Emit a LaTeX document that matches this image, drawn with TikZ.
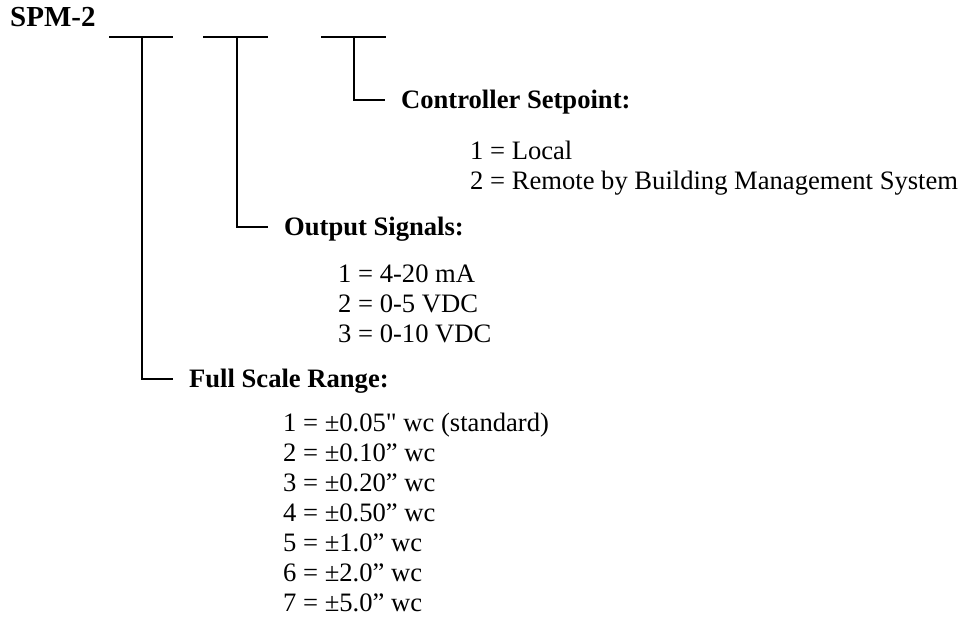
\documentclass[tikz,border=0pt]{standalone}
\usepackage{fontspec}
\setmainfont{Liberation Serif}[Ligatures=TeXOff]

\begin{document}
\begin{tikzpicture}[x=1pt, y=-1pt,
  stem/.style={line width=1.5pt, line cap=rect},
  hook/.style={stem, shorten >=17pt},
  head/.style={font=\fontsize{26.6}{30}\selectfont\bfseries, inner sep=0pt,
    anchor=west, text height=17.5pt, text depth=0pt},
  item/.style={font=\fontsize{26.6}{30}\selectfont, inner sep=0pt, anchor=base west}]
  \useasboundingbox (0,0) rectangle (961,639);

  % Model code
  \node[font=\fontsize{29}{32}\selectfont\bfseries, inner sep=0pt, anchor=base west]
    (spm) at (10,27) {SPM-2};

  % Blanks
  \coordinate (a1) at (110,37); \coordinate (a2) at (172,37);
  \coordinate (b1) at (204,37); \coordinate (b2) at (267,37);
  \coordinate (c1) at (322,37); \coordinate (c2) at (385,37);
  \coordinate (ta) at (142,37);
  \coordinate (tb) at (237,37);
  \coordinate (tc) at (354,37);
  \draw[stem] (a1) -- (a2);
  \draw[stem] (b1) -- (b2);
  \draw[stem] (c1) -- (c2);

  % Headings
  \node[head] (setpt)  at (401,100) {Controller Setpoint:};
  \node[head] (outsig) at (284,227) {Output Signals:};
  \node[head] (fsrange) at (189,379) {Full Scale Range:};

  % Leaders
  \draw[hook] (tc) |- (setpt.west);
  \draw[hook] (tb) |- (outsig.west);
  \draw[hook] (ta) |- (fsrange.west);

  % Options
  \foreach \t [count=\i] in {1 = Local, 2 = Remote by Building Management System}
    \node[item] (sp\i) at (470,130+30*\i) {\t};
  \foreach \t [count=\i] in {1 = 4-20 mA, 2 = 0-5 VDC, 3 = 0-10 VDC}
    \node[item] (os\i) at (338,252+30*\i) {\t};
  \foreach \t [count=\i] in {1 = ±0.05" wc (standard), 2 = ±0.10” wc, 3 = ±0.20” wc,
      4 = ±0.50” wc, 5 = ±1.0” wc, 6 = ±2.0” wc, 7 = ±5.0” wc}
    \node[item] (fs\i) at (283,401+30*\i) {\t};
\end{tikzpicture}
\end{document}
